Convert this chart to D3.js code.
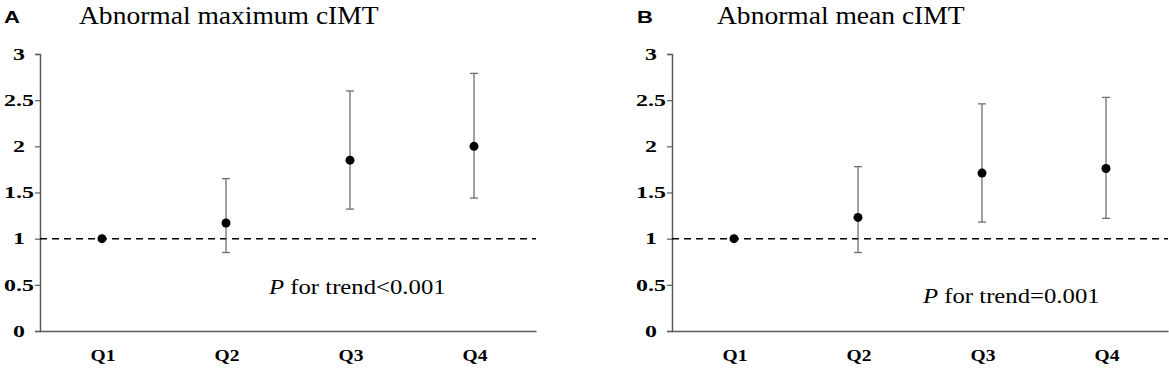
<!DOCTYPE html>
<html>
<head>
<meta charset="utf-8">
<script src="https://cdn.jsdelivr.net/npm/d3@7"></script>
<style>
  html, body { margin: 0; padding: 0; background: #fff; }
  svg { display: block; }
</style>
</head>
<body>
<div class="cimt-viz"></div>
<script>
const WIDTH = 1169,
    HEIGHT = 373;

// data (odds ratios with 95% CI)
const quartiles = ["Q1", "Q2", "Q3", "Q4"];
const yTicks = [0, 0.5, 1, 1.5, 2, 2.5, 3];

const maxOR = [1.00, 1.17, 1.85, 2.00];
const maxLower = [null, 0.85, 1.32, 1.44];
const maxUpper = [null, 1.65, 2.60, 2.79];

const meanOR = [1.00, 1.23, 1.71, 1.76];
const meanLower = [null, 0.85, 1.18, 1.22];
const meanUpper = [null, 1.78, 2.46, 2.53];

const panelLetters = ["A", "B"];
const panelTitles = ["Abnormal maximum cIMT", "Abnormal mean cIMT"];
const trendLabels = ["<0.001", "=0.001"];

const SERIF = "'Times New Roman', 'Liberation Serif', Times, serif";

const svg = d3.select(".cimt-viz")
    .append("svg")
    .attr("width", WIDTH)
    .attr("height", HEIGHT);

const y = d3.scaleLinear().domain([0, 3]).range([331, 54]);

/**
 * draws one panel
 */
function drawPanel(opts) {
    const g = svg.append("g");
    const x = d3.scaleBand().domain(quartiles).range([opts.left, opts.right]).padding(0);
    const cx = q => x(q) + x.bandwidth() / 2;

    // panel letter and title
    g.append("text")
        .attr("transform", `translate(${opts.letterX},23) scale(1.3,1)`)
        .style("font-family", "Arial, 'Liberation Sans', Helvetica, sans-serif")
        .style("font-weight", "bold")
        .style("font-size", "17px")
        .text(opts.letter);

    g.append("text")
        .attr("transform", `translate(${opts.titleX},23.5) scale(1.08,1)`)
        .style("font-family", SERIF)
        .style("font-size", "25.5px")
        .text(opts.title);

    // y axis
    const yAxis = g.append("g")
        .attr("transform", `translate(${opts.left},0)`)
        .call(d3.axisLeft(y).tickValues(yTicks).tickFormat(d3.format("")).tickSize(5).tickSizeOuter(5));
    yAxis.select(".domain").attr("stroke", "#595959").attr("stroke-width", 1.5);
    yAxis.selectAll(".tick line").attr("stroke", "#595959").attr("stroke-width", 1.2);
    yAxis.selectAll(".tick text")
        .attr("x", 0)
        .attr("text-anchor", "middle")
        .attr("transform", "translate(-21,0) scale(1.45,1)")
        .style("font-family", SERIF)
        .style("font-weight", "bold")
        .style("font-size", "16.5px")
        .attr("fill", "#000");

    // x axis
    const xAxis = g.append("g")
        .attr("transform", `translate(0,${y(0)})`)
        .call(d3.axisBottom(x).tickSize(0).tickSizeOuter(0));
    xAxis.select(".domain").attr("stroke", "#595959").attr("stroke-width", 1.5);
    xAxis.selectAll(".tick text")
        .attr("y", 0)
        .attr("dy", 0)
        .attr("transform", "translate(1,29.5) scale(1.15,1)")
        .style("font-family", SERIF)
        .style("font-weight", "bold")
        .style("font-size", "17px")
        .attr("fill", "#000");

    // reference line at OR = 1
    g.append("line")
        .attr("x1", opts.left)
        .attr("x2", opts.right)
        .attr("y1", y(1))
        .attr("y2", y(1))
        .attr("stroke", "#000")
        .attr("stroke-width", 1.5)
        .attr("stroke-dasharray", "7,5");

    // error bars
    quartiles.forEach((q, i) => {
        if (opts.lower[i] == null) return;
        const px = cx(q);
        const bar = g.append("g")
            .attr("stroke", "#6f6f6f")
            .attr("stroke-width", 1.3);
        bar.append("line")
            .attr("x1", px).attr("x2", px)
            .attr("y1", y(opts.lower[i])).attr("y2", y(opts.upper[i]));
        [opts.lower[i], opts.upper[i]].forEach(v => {
            bar.append("line")
                .attr("x1", px - 4).attr("x2", px + 4)
                .attr("y1", y(v)).attr("y2", y(v));
        });
    });

    // points
    g.selectAll("circle.pt")
        .data(quartiles)
        .join("circle")
        .attr("class", "pt")
        .attr("cx", d => cx(d))
        .attr("cy", (d, i) => y(opts.values[i]))
        .attr("r", 4.5)
        .attr("fill", "#000");

    // P for trend
    const t = g.append("text")
        .attr("transform", `translate(${opts.pX},${opts.pY}) scale(1.15,1)`)
        .style("font-family", SERIF)
        .style("font-size", "21.5px");
    t.append("tspan").style("font-style", "italic").text("P");
    t.append("tspan").text(" for trend" + opts.trend);
}

drawPanel({
    left: 40, right: 536,
    letter: panelLetters[0], letterX: 4,
    title: panelTitles[0], titleX: 79,
    values: maxOR, lower: maxLower, upper: maxUpper,
    trend: trendLabels[0], pX: 269, pY: 294
});

drawPanel({
    left: 672, right: 1168,
    letter: panelLetters[1], letterX: 637,
    title: panelTitles[1], titleX: 717,
    values: meanOR, lower: meanLower, upper: meanUpper,
    trend: trendLabels[1], pX: 923, pY: 303
});
</script>
</body>
</html>
